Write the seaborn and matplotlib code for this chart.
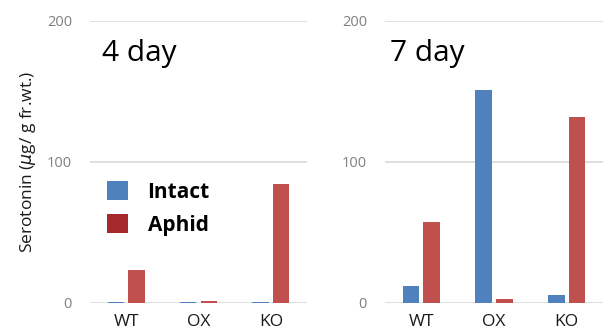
import matplotlib
matplotlib.use("Agg")
import matplotlib.pyplot as plt
from matplotlib.patches import Patch
import seaborn as sns
import pandas as pd

genotypes = ["WT", "OX", "KO"]
treatments = ["Intact", "Aphid"]
day4_intact = [0.6, 0.6, 0.6]
day4_aphid = [23, 1.3, 84.5]
day7_intact = [12, 150.5, 5.7]
day7_aphid = [57, 2.4, 131.5]
panel_titles = ["4 day", "7 day"]
yticks = [0, 100, 200]

bar_colors = {"Intact": "#4F81BD", "Aphid": "#C0504D"}
legend_colors = ["#4F81BD", "#A5282A"]

def make_df(intact, aphid):
    rows = []
    for g, a, b in zip(genotypes, intact, aphid):
        rows.append({"genotype": g, "treatment": "Intact", "value": a})
        rows.append({"genotype": g, "treatment": "Aphid", "value": b})
    return pd.DataFrame(rows)

sns.set_theme(style="white")
plt.rcParams["font.family"] = ["Open Sans", "DejaVu Sans"]

fig = plt.figure(figsize=(6.03, 3.33), dpi=100)
ax1 = fig.add_axes([90 / 603, 30.3 / 333, 217 / 603, 282 / 333])
ax2 = fig.add_axes([385 / 603, 30.3 / 333, 218 / 603, 282 / 333])

for ax, (intact, aphid), title, tx in zip(
    [ax1, ax2], [(day4_intact, day4_aphid), (day7_intact, day7_aphid)], panel_titles, [0.054, 0.023]
):
    df = make_df(intact, aphid)
    sns.barplot(data=df, x="genotype", y="value", hue="treatment", order=genotypes,
                hue_order=treatments, palette=bar_colors, width=0.57, gap=0.2,
                ax=ax, legend=False, saturation=1, edgecolor="none")
    ax.set_ylim(0, 200)
    ax.set_xlim(-0.5, 2.5)
    ax.set_yticks(yticks)
    ax.yaxis.grid(True, color="#d9d9d9", linewidth=1.2)
    ax.set_axisbelow(True)
    for s in ax.spines.values():
        s.set_visible(False)
    ax.tick_params(axis="y", length=0, pad=13, labelsize=10.5, labelcolor="#7f7f7f")
    ax.tick_params(axis="x", length=0, pad=8, labelsize=12.5, labelcolor="#1a1a1a")
    ax.set_xlabel("")
    ax.set_ylabel("")
    ax.text(tx, 0.857, title, transform=ax.transAxes, fontsize=21.5, color="black",
            ha="left", va="baseline")

ax1.set_ylabel(r"Serotonin ($\mu$g/ g fr.wt.)", fontsize=12.5, color="#1a1a1a", labelpad=6)

handles = [Patch(facecolor=c, edgecolor="none") for c in legend_colors]
leg = ax1.legend(handles, treatments, loc="upper left", bbox_to_anchor=(0.078, 0.43),
                 frameon=False, fontsize=15, handlelength=1.0, handleheight=1.0,
                 handletextpad=0.95, labelspacing=0.55, borderaxespad=0, borderpad=0)
for t in leg.get_texts():
    t.set_fontweight("bold")
    t.set_color("black")

fig.savefig("out.png", dpi=100)
